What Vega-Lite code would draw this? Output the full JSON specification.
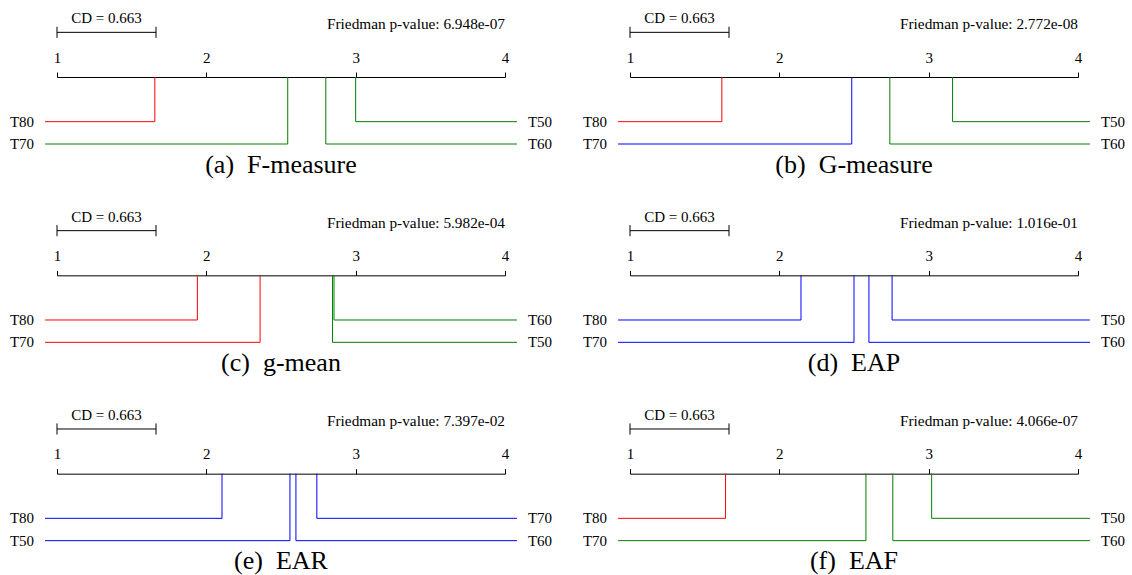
{
  "$schema": "https://vega.github.io/schema/vega-lite/v6.json",
  "background": "white",
  "padding": {"left": 9, "top": 11, "right": 0, "bottom": 0},
  "config": {
    "font": "Liberation Serif",
    "view": {"stroke": null},
    "text": {"font": "Liberation Serif", "fontSize": 15, "color": "black"}
  },
  "data": {
    "values": [
      {"panel": "(a)\u2002F-measure", "kind": "info", "pvalue": "6.948e-07", "cd": 0.663},
      {"panel": "(a)\u2002F-measure", "kind": "rank", "method": "T80", "rank": 1.655, "side": "left", "row": 1, "clique": "I"},
      {"panel": "(a)\u2002F-measure", "kind": "rank", "method": "T70", "rank": 2.545, "side": "left", "row": 2, "clique": "II"},
      {"panel": "(a)\u2002F-measure", "kind": "rank", "method": "T60", "rank": 2.8, "side": "right", "row": 2, "clique": "II"},
      {"panel": "(a)\u2002F-measure", "kind": "rank", "method": "T50", "rank": 3.0, "side": "right", "row": 1, "clique": "II"},

      {"panel": "(b)\u2002G-measure", "kind": "info", "pvalue": "2.772e-08", "cd": 0.663},
      {"panel": "(b)\u2002G-measure", "kind": "rank", "method": "T80", "rank": 1.615, "side": "left", "row": 1, "clique": "I"},
      {"panel": "(b)\u2002G-measure", "kind": "rank", "method": "T70", "rank": 2.485, "side": "left", "row": 2, "clique": "III"},
      {"panel": "(b)\u2002G-measure", "kind": "rank", "method": "T60", "rank": 2.74, "side": "right", "row": 2, "clique": "II"},
      {"panel": "(b)\u2002G-measure", "kind": "rank", "method": "T50", "rank": 3.16, "side": "right", "row": 1, "clique": "II"},

      {"panel": "(c)\u2002g-mean", "kind": "info", "pvalue": "5.982e-04", "cd": 0.663},
      {"panel": "(c)\u2002g-mean", "kind": "rank", "method": "T80", "rank": 1.94, "side": "left", "row": 1, "clique": "I"},
      {"panel": "(c)\u2002g-mean", "kind": "rank", "method": "T70", "rank": 2.36, "side": "left", "row": 2, "clique": "I"},
      {"panel": "(c)\u2002g-mean", "kind": "rank", "method": "T50", "rank": 2.845, "side": "right", "row": 2, "clique": "II"},
      {"panel": "(c)\u2002g-mean", "kind": "rank", "method": "T60", "rank": 2.855, "side": "right", "row": 1, "clique": "II"},

      {"panel": "(d)\u2002EAP", "kind": "info", "pvalue": "1.016e-01", "cd": 0.663},
      {"panel": "(d)\u2002EAP", "kind": "rank", "method": "T80", "rank": 2.145, "side": "left", "row": 1, "clique": "III"},
      {"panel": "(d)\u2002EAP", "kind": "rank", "method": "T70", "rank": 2.5, "side": "left", "row": 2, "clique": "III"},
      {"panel": "(d)\u2002EAP", "kind": "rank", "method": "T60", "rank": 2.6, "side": "right", "row": 2, "clique": "III"},
      {"panel": "(d)\u2002EAP", "kind": "rank", "method": "T50", "rank": 2.755, "side": "right", "row": 1, "clique": "III"},

      {"panel": "(e)\u2002EAR", "kind": "info", "pvalue": "7.397e-02", "cd": 0.663},
      {"panel": "(e)\u2002EAR", "kind": "rank", "method": "T80", "rank": 2.105, "side": "left", "row": 1, "clique": "III"},
      {"panel": "(e)\u2002EAR", "kind": "rank", "method": "T50", "rank": 2.56, "side": "left", "row": 2, "clique": "III"},
      {"panel": "(e)\u2002EAR", "kind": "rank", "method": "T60", "rank": 2.6, "side": "right", "row": 2, "clique": "III"},
      {"panel": "(e)\u2002EAR", "kind": "rank", "method": "T70", "rank": 2.74, "side": "right", "row": 1, "clique": "III"},

      {"panel": "(f)\u2002EAF", "kind": "info", "pvalue": "4.066e-07", "cd": 0.663},
      {"panel": "(f)\u2002EAF", "kind": "rank", "method": "T80", "rank": 1.64, "side": "left", "row": 1, "clique": "I"},
      {"panel": "(f)\u2002EAF", "kind": "rank", "method": "T70", "rank": 2.58, "side": "left", "row": 2, "clique": "II"},
      {"panel": "(f)\u2002EAF", "kind": "rank", "method": "T60", "rank": 2.76, "side": "right", "row": 2, "clique": "II"},
      {"panel": "(f)\u2002EAF", "kind": "rank", "method": "T50", "rank": 3.02, "side": "right", "row": 1, "clique": "II"}
    ]
  },
  "facet": {
    "field": "panel", "type": "nominal",
    "header": {
      "title": null,
      "labelOrient": "bottom",
      "labelFont": "Liberation Serif",
      "labelFontSize": 26,
      "labelColor": "black",
      "labelBaseline": "alphabetic",
      "labelPadding": 17.5
    }
  },
  "columns": 2,
  "bounds": "flush",
  "spacing": {"row": 119.33, "column": 125},
  "resolve": {"axis": {"x": "independent"}},
  "spec": {
    "width": 448,
    "height": 78.17,
    "layer": [
      {
        "transform": [{"filter": "datum.kind === 'rank'"}],
        "mark": {"type": "rule", "strokeWidth": 1},
        "encoding": {
          "x": {
            "field": "rank", "type": "quantitative",
            "scale": {"domain": [1, 4], "nice": false, "zero": false},
            "axis": {
              "orient": "top", "title": null,
              "values": [1, 1.5, 2, 2.5, 3, 3.5, 4],
              "labelExpr": "datum.value % 1 === 0 ? datum.label : ''",
              "format": "d",
              "labelFont": "Liberation Serif", "labelFontSize": 15, "labelColor": "black",
              "labelBaseline": "alphabetic", "labelPadding": 10, "labelFlush": false,
              "labelOverlap": false,
              "domainColor": "black", "domainWidth": 1,
              "tickColor": "black", "tickWidth": 1,
              "tickSize": {"condition": {"test": "datum.value % 1 === 0", "value": 5}, "value": 3},
              "grid": false
            }
          },
          "y": {
            "field": "row", "type": "quantitative",
            "scale": {"domain": [-1, 2.5], "nice": false, "zero": false, "reverse": true},
            "axis": null
          },
          "y2": {"datum": -1},
          "color": {
            "field": "clique", "type": "nominal",
            "scale": {"domain": ["I", "II", "III"], "range": ["#ff0000", "#008000", "#0000ff"]},
            "legend": null
          }
        }
      },
      {
        "transform": [{"filter": "datum.kind === 'rank' && datum.side === 'left'"}],
        "mark": {"type": "rule", "strokeWidth": 1},
        "encoding": {
          "x": {"field": "rank", "type": "quantitative"},
          "x2": {"datum": 0.92},
          "y": {"field": "row", "type": "quantitative", "axis": null},
          "color": {"field": "clique", "type": "nominal", "legend": null}
        }
      },
      {
        "transform": [{"filter": "datum.kind === 'rank' && datum.side === 'right'"}],
        "mark": {"type": "rule", "strokeWidth": 1},
        "encoding": {
          "x": {"field": "rank", "type": "quantitative"},
          "x2": {"datum": 4.08},
          "y": {"field": "row", "type": "quantitative", "axis": null},
          "color": {"field": "clique", "type": "nominal", "legend": null}
        }
      },
      {
        "transform": [{"filter": "datum.kind === 'rank' && datum.side === 'left'"}],
        "mark": {"type": "text", "align": "right", "baseline": "middle", "dx": -11, "fontSize": 15},
        "encoding": {
          "x": {"datum": 0.92},
          "y": {"field": "row", "type": "quantitative", "axis": null},
          "text": {"field": "method"}
        }
      },
      {
        "transform": [{"filter": "datum.kind === 'rank' && datum.side === 'right'"}],
        "mark": {"type": "text", "align": "left", "baseline": "middle", "dx": 11, "fontSize": 15},
        "encoding": {
          "x": {"datum": 4.08},
          "y": {"field": "row", "type": "quantitative", "axis": null},
          "text": {"field": "method"}
        }
      },
      {
        "transform": [
          {"filter": "datum.kind === 'info'"},
          {"calculate": "1 + datum.cd", "as": "cdEnd"}
        ],
        "mark": {"type": "rule", "strokeWidth": 1, "color": "black"},
        "encoding": {
          "x": {"field": "cdEnd", "type": "quantitative"},
          "x2": {"datum": 1},
          "y": {"datum": -3, "type": "quantitative", "axis": null}
        }
      },
      {
        "transform": [{"filter": "datum.kind === 'info'"}],
        "mark": {"type": "rule", "strokeWidth": 1, "color": "black"},
        "encoding": {
          "x": {"datum": 1},
          "y": {"datum": -3.25, "type": "quantitative", "axis": null},
          "y2": {"datum": -2.75}
        }
      },
      {
        "transform": [
          {"filter": "datum.kind === 'info'"},
          {"calculate": "1 + datum.cd", "as": "cdEnd"}
        ],
        "mark": {"type": "rule", "strokeWidth": 1, "color": "black"},
        "encoding": {
          "x": {"field": "cdEnd", "type": "quantitative"},
          "y": {"datum": -3.25, "type": "quantitative", "axis": null},
          "y2": {"datum": -2.75}
        }
      },
      {
        "transform": [
          {"filter": "datum.kind === 'info'"},
          {"calculate": "1 + datum.cd / 2", "as": "cdMid"},
          {"calculate": "'CD = ' + format(datum.cd, '.3f')", "as": "cdLabel"}
        ],
        "mark": {"type": "text", "align": "center", "baseline": "alphabetic", "fontSize": 15},
        "encoding": {
          "x": {"field": "cdMid", "type": "quantitative"},
          "y": {"datum": -3.4, "type": "quantitative", "axis": null},
          "text": {"field": "cdLabel"}
        }
      },
      {
        "transform": [
          {"filter": "datum.kind === 'info'"},
          {"calculate": "'Friedman p-value: ' + datum.pvalue", "as": "pLabel"}
        ],
        "mark": {"type": "text", "align": "right", "baseline": "alphabetic", "fontSize": 15.3},
        "encoding": {
          "x": {"datum": 4},
          "y": {"datum": -3.14, "type": "quantitative", "axis": null},
          "text": {"field": "pLabel"}
        }
      }
    ]
  }
}
